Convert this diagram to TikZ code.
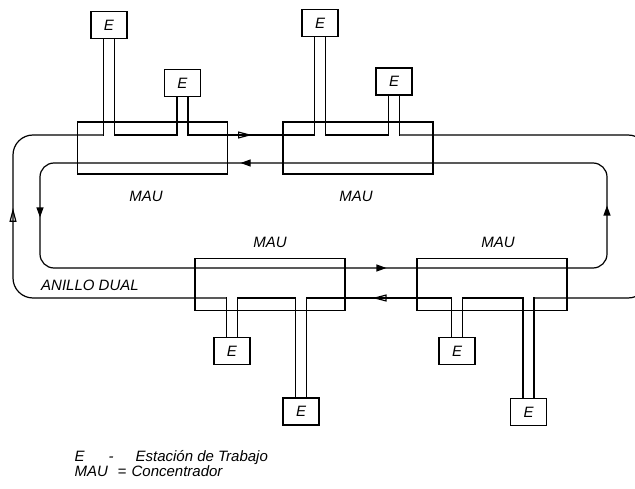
\documentclass[tikz,border=0pt]{standalone}
\usepackage{fontspec}
\setmainfont{Liberation Sans}
\usepackage{tikz}
\usetikzlibrary{arrows.meta,decorations.markings}

\tikzset{
  mau/.style={draw, minimum width=150pt, minimum height=52pt, inner sep=0pt},
  est/.style={draw, minimum width=36pt, minimum height=27pt, inner sep=0pt},
  lbl/.style={inner sep=0pt},
  tipin/.tip={Triangle[length=10pt,width=7pt]},
  tipout/.tip={Triangle[open,length=14pt,width=7pt]},
  outtip/.style={postaction={decorate},
    decoration={markings, mark=at position #1 with {\arrow{tipout}}}}
}

\begin{document}
\begin{tikzpicture}[x=1pt,y=-1pt,line width=1.2pt,font=\fontsize{15}{18}\selectfont\itshape]
\useasboundingbox (0,0) rectangle (635,489);
\clip (0,0) rectangle (635,489);
% concentradores
\node[mau] (m1) at (152.5,148) {};
\node[mau] (m2) at (358,148) {};
\node[mau] (m3) at (270,284.5) {};
\node[mau] (m4) at (492,284.5) {};
% estaciones
\node[est] (e1) at (109,25) {E};
\node[est] (e2) at (182.5,83) {E};
\node[est] (e3) at (320,23) {E};
\node[est] (e4) at (394,81.5) {E};
\node[est] (e5) at (232,351) {E};
\node[est] (e6) at (301,411.5) {E};
\node[est] (e7) at (457,351) {E};
\node[est] (e8) at (528.5,412) {E};
% niveles del anillo
\coordinate (oT) at (0,135);
\coordinate (iT) at (0,163);
\coordinate (iB) at (0,268);
\coordinate (oB) at (0,298);
\coordinate (oL) at (13,216);
\coordinate (iL) at (40,216);
\coordinate (iR) at (607,216);
\coordinate (oR) at (648,216);

% anillo interior
\draw[rounded corners=14pt, postaction={decorate}, decoration={markings,
    mark=at position 193pt with {\arrow{tipin}},
    mark=at position 442pt with {\arrow{tipin}},
    mark=at position 833pt with {\arrow{tipin}},
    mark=at position 1110pt with {\arrow{tipin}}}]
  (m2.east |- iT) -- (m1.west |- iT) -| (iL) |- (m3.west |- iB)
  -- (m4.east |- iB) -| (iR) |- (m2.east |- iT);

% bajadas a las estaciones
\foreach \e/\a/\lvl in {e1/south/oT, e2/south/oT, e3/south/oT, e4/south/oT,
                        e5/north/oB, e6/north/oB, e7/north/oB, e8/north/oB}
  \foreach \dx in {-5.5,5.5}
    \draw[line cap=rect] ([xshift=\dx pt]\e.\a) -- ([xshift=\dx pt]\e.\a |- \lvl);

% anillo exterior
\draw ([xshift=5.5pt]e1.south |- oT) -- ([xshift=-5.5pt]e2.south |- oT);
\draw[outtip=64pt] ([xshift=5.5pt]e2.south |- oT) -- ([xshift=-5.5pt]e3.south |- oT);
\draw ([xshift=5.5pt]e3.south |- oT) -- ([xshift=-5.5pt]e4.south |- oT);
\draw[rounded corners=20pt] ([xshift=5.5pt]e4.south |- oT) -| (oR) |- ([xshift=5.5pt]e8.north |- oB);
\draw ([xshift=-5.5pt]e8.north |- oB) -- ([xshift=5.5pt]e7.north |- oB);
\draw[outtip=79pt] ([xshift=-5.5pt]e7.north |- oB) -- ([xshift=5.5pt]e6.north |- oB);
\draw ([xshift=-5.5pt]e6.north |- oB) -- ([xshift=5.5pt]e5.north |- oB);
\draw[rounded corners=20pt, outtip=295pt] ([xshift=-5.5pt]e5.north |- oB) -| (oL) |- ([xshift=-5.5pt]e1.south |- oT);

% rotulos
\node[lbl] (t1) at (146,196) {MAU};
\node[lbl] (t2) at (356,196) {MAU};
\node[lbl] (t3) at (270,242) {MAU};
\node[lbl] (t4) at (498,242) {MAU};
\node[lbl] (anillo) at (90,285) {ANILLO DUAL};

% leyenda
\node[lbl, anchor=base west] (k1) at (74,461) {E};
\node[lbl, anchor=base] (k2) at (111,461) {-};
\node[lbl, anchor=base west] (k3) at (135,461) {Estación de Trabajo};
\node[lbl, anchor=base west] (k4) at (74,476) {MAU};
\node[lbl, anchor=base] (k5) at (122,476) {=};
\node[lbl, anchor=base west] (k6) at (131,476) {Concentrador};
\end{tikzpicture}
\end{document}
